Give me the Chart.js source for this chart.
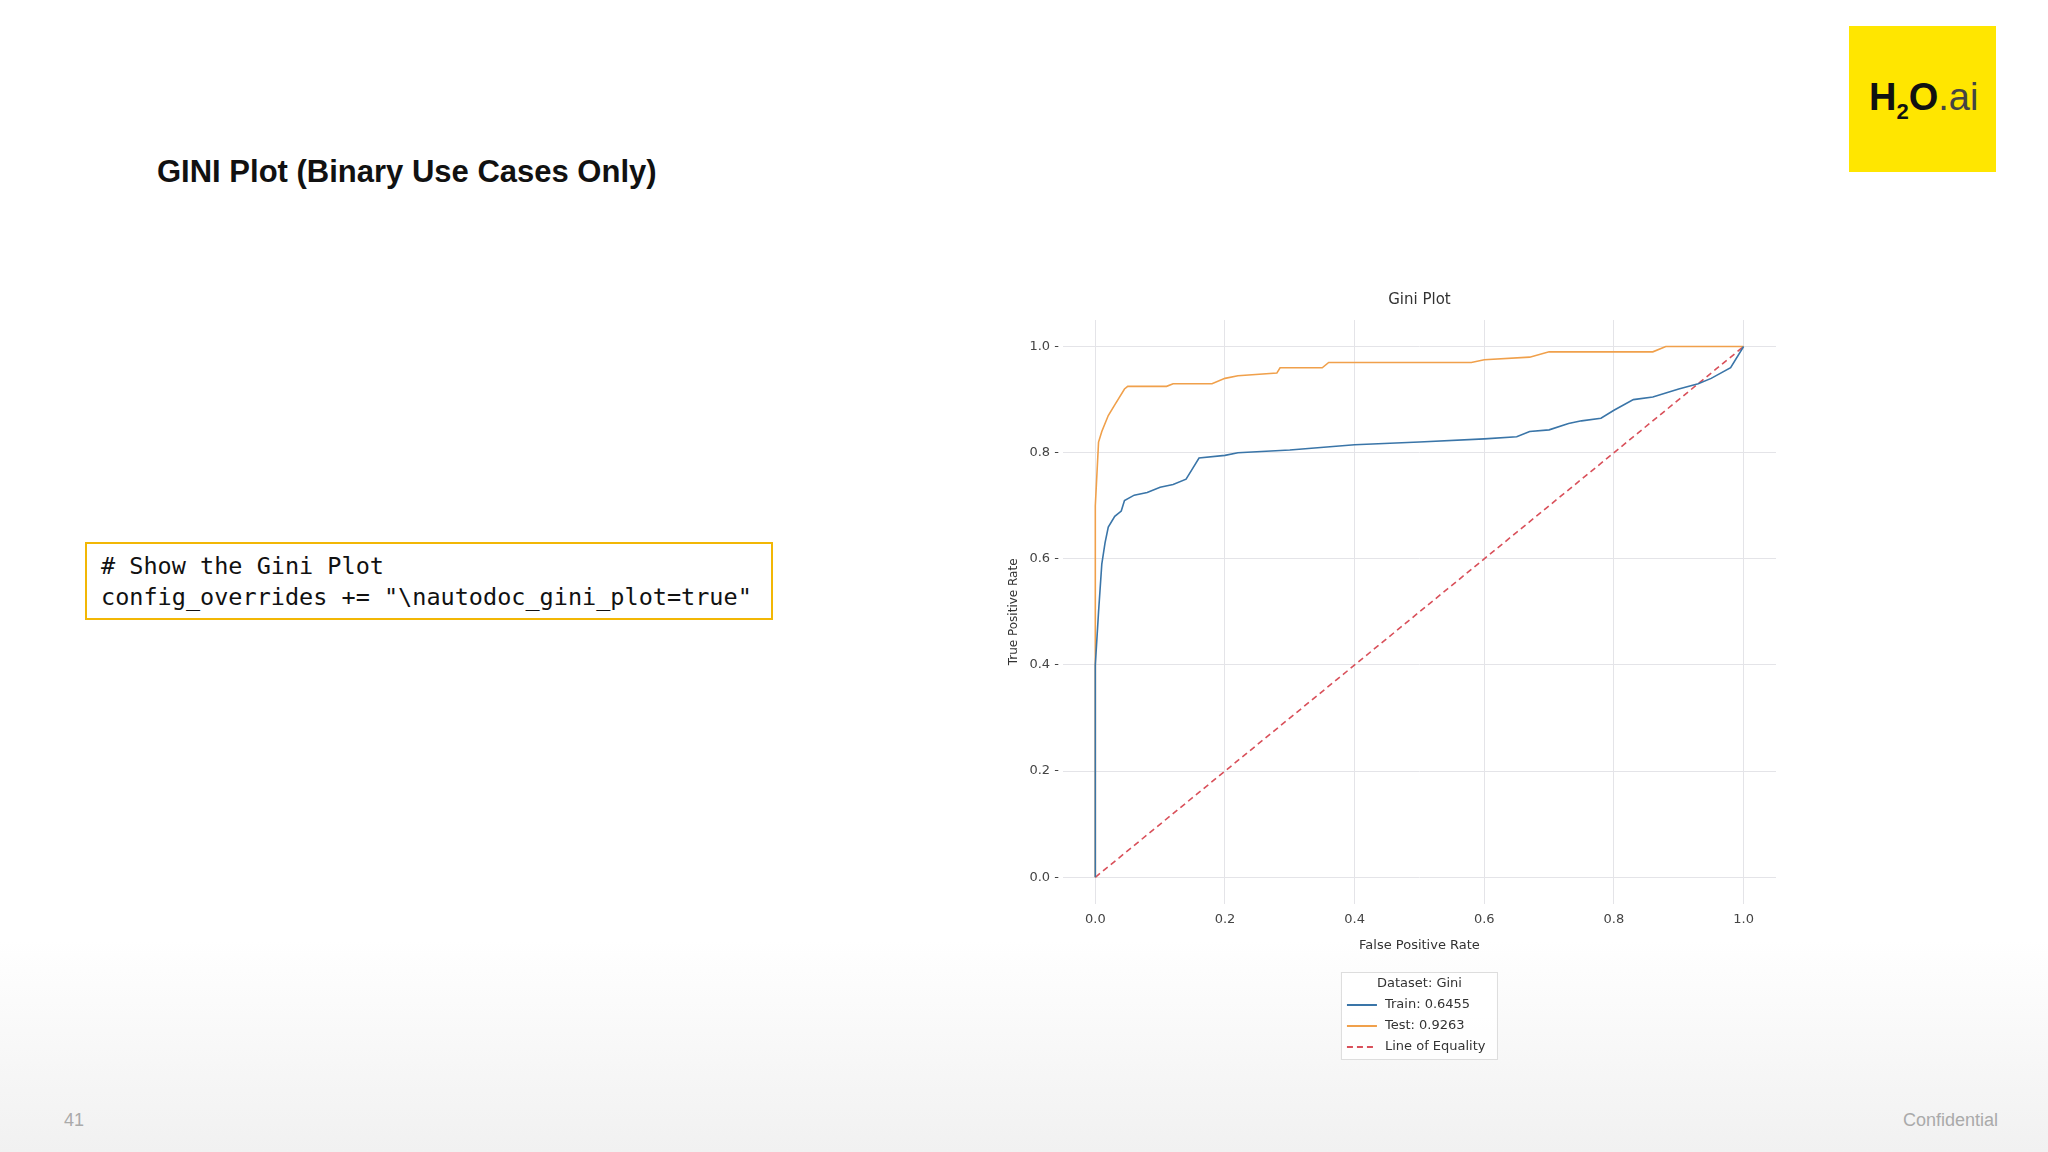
<!DOCTYPE html>
<html>
<head>
<meta charset="utf-8">
<script src="https://cdn.jsdelivr.net/npm/chart.js@4/dist/chart.umd.min.js"></script>
<style>
  body { margin: 0; width: 2048px; height: 1152px; background: #fff; position: relative; overflow: hidden; font-family: "Liberation Sans", Arial, sans-serif; }
  .title { position: absolute; left: 157px; top: 154px; font-size: 31px; font-weight: bold; color: #111; }
  .code { position: absolute; left: 85px; top: 542px; width: 688px; height: 78px; border: 2px solid #f2b705; font-family: "DejaVu Sans Mono", monospace; font-size: 23.5px; line-height: 31px; padding: 7px 0 0 14px; box-sizing: border-box; color: #111; }
  .logo { position: absolute; left: 1849px; top: 26px; width: 147px; height: 146px; background: #ffe600; }
  .logo span { position: absolute; left: 20px; top: 50px; font-size: 38px; font-weight: bold; color: #111; }
  .logo sub { font-size: 22px; }
  .logo i { font-style: normal; font-weight: normal; color: #444; }
  .foot { position: absolute; top: 1110px; font-size: 18px; color: #aaa; }
  .bg { position: absolute; left: 0; top: 940px; width: 2048px; height: 212px; background: linear-gradient(#fff, #f1f1f1); }
  #wrap { position: absolute; left: 1000px; top: 280px; width: 800px; height: 790px; }
</style>
</head>
<body>
<div class="bg"></div>
<div class="title">GINI Plot (Binary Use Cases Only)</div>
<div class="code"># Show the Gini Plot<br>config_overrides += "\nautodoc_gini_plot=true"</div>
<div class="logo"><span>H<sub>2</sub>O<i>.ai</i></span></div>
<div class="foot" style="left:64px">41</div>
<div class="foot" style="right:50px">Confidential</div>
<div id="wrap"><canvas id="gini"></canvas></div>
<script>
const trainFpr = [0, 0, 0.005, 0.01, 0.015, 0.02, 0.03, 0.04, 0.045, 0.06, 0.08, 0.1, 0.12, 0.14, 0.15, 0.16, 0.2, 0.22, 0.3, 0.4, 0.5, 0.6, 0.65, 0.67, 0.7, 0.73, 0.75, 0.78, 0.8, 0.83, 0.86, 0.9, 0.93, 0.95, 0.98, 1];
const trainTpr = [0, 0.4, 0.5, 0.59, 0.63, 0.66, 0.68, 0.69, 0.71, 0.72, 0.725, 0.735, 0.74, 0.75, 0.77, 0.79, 0.795, 0.8, 0.805, 0.815, 0.82, 0.826, 0.83, 0.84, 0.843, 0.855, 0.86, 0.865, 0.88, 0.9, 0.905, 0.92, 0.93, 0.94, 0.96, 1];
const testFpr = [0, 0, 0.005, 0.01, 0.02, 0.03, 0.045, 0.05, 0.11, 0.12, 0.18, 0.2, 0.22, 0.28, 0.285, 0.35, 0.36, 0.58, 0.6, 0.67, 0.7, 0.86, 0.88, 1];
const testTpr = [0, 0.7, 0.82, 0.84, 0.87, 0.89, 0.92, 0.925, 0.925, 0.93, 0.93, 0.94, 0.945, 0.95, 0.96, 0.96, 0.97, 0.97, 0.975, 0.98, 0.99, 0.99, 1, 1];
const equality = [0, 1];
const tickValues = [0, 0.2, 0.4, 0.6, 0.8, 1];

const pts = (xs, ys) => xs.map((x, i) => ({ x: x, y: ys[i] }));
const font = { family: 'DejaVu Sans', size: 13 };

// matplotlib style: title centred on the axes, boxed vertical legend under the x title
const mplDecor = {
  id: 'mplDecor',
  afterDraw(chart) {
    const c = chart.ctx, a = chart.chartArea;
    const cx = (a.left + a.right) / 2;
    c.save();
    c.font = '15px "DejaVu Sans"';
    c.fillStyle = '#333';
    c.textAlign = 'center';
    c.textBaseline = 'middle';
    c.fillText('Gini Plot', cx, 20);

    const w = 157, rowH = 21, h = 88;
    const left = cx - w / 2;
    const top = chart.scales.x.bottom + 15;
    c.fillStyle = 'rgba(255,255,255,0.85)';
    c.fillRect(left, top, w, h);
    c.strokeStyle = '#ddd';
    c.lineWidth = 1;
    c.strokeRect(left + 0.5, top + 0.5, w - 1, h - 1);
    c.font = '13px "DejaVu Sans"';
    c.fillStyle = '#333';
    c.fillText('Dataset: Gini', cx, top + 12);
    c.textAlign = 'left';
    chart.data.datasets.forEach((ds, i) => {
      const y = top + 33 + i * rowH;
      c.strokeStyle = ds.borderColor;
      c.lineWidth = 2;
      c.setLineDash(ds.borderDash || []);
      c.beginPath();
      c.moveTo(left + 6, y);
      c.lineTo(left + 36, y);
      c.stroke();
      c.setLineDash([]);
      c.fillText(ds.label, left + 44, y);
    });
    c.restore();
  }
};

new Chart(document.getElementById('gini'), {
  type: 'scatter',
  data: {
    datasets: [
      { label: 'Train: 0.6455', data: pts(trainFpr, trainTpr), showLine: true, borderColor: '#3a75a8', borderWidth: 1.6, pointRadius: 0 },
      { label: 'Test: 0.9263', data: pts(testFpr, testTpr), showLine: true, borderColor: '#f0a04b', borderWidth: 1.6, pointRadius: 0 },
      { label: 'Line of Equality', data: pts(equality, equality), showLine: true, borderColor: '#d9505a', borderDash: [6, 4], borderWidth: 1.6, pointRadius: 0 }
    ]
  },
  options: {
    responsive: true,
    maintainAspectRatio: false,
    animation: false,
    layout: { padding: { left: 3, right: 24, top: 2, bottom: 113 } },
    scales: {
      x: {
        min: -0.05, max: 1.05,
        afterBuildTicks: a => { a.ticks = tickValues.map(v => ({ value: v })); },
        ticks: { font: font, color: '#444', callback: v => v.toFixed(1), padding: 8 },
        grid: { color: '#e4e4e8', drawTicks: false },
        border: { display: false },
        title: { display: true, text: 'False Positive Rate', font: font, color: '#333', padding: { top: 2 } }
      },
      y: {
        min: -0.05, max: 1.05,
        afterBuildTicks: a => { a.ticks = tickValues.map(v => ({ value: v })); },
        ticks: { font: font, color: '#444', callback: v => v.toFixed(1) + ' -', padding: 4 },
        grid: { color: '#e4e4e8', drawTicks: false },
        border: { display: false },
        title: { display: true, text: 'True Positive Rate', font: { family: 'DejaVu Sans', size: 12 }, color: '#333' }
      }
    },
    plugins: {
      title: { display: true, text: 'Gini Plot', font: { family: 'DejaVu Sans', size: 15 }, color: 'rgba(0,0,0,0)', padding: { top: 10, bottom: 10 } },
      legend: { display: false },
      tooltip: { enabled: false }
    }
  },
  plugins: [mplDecor]
});
</script>
</body>
</html>
